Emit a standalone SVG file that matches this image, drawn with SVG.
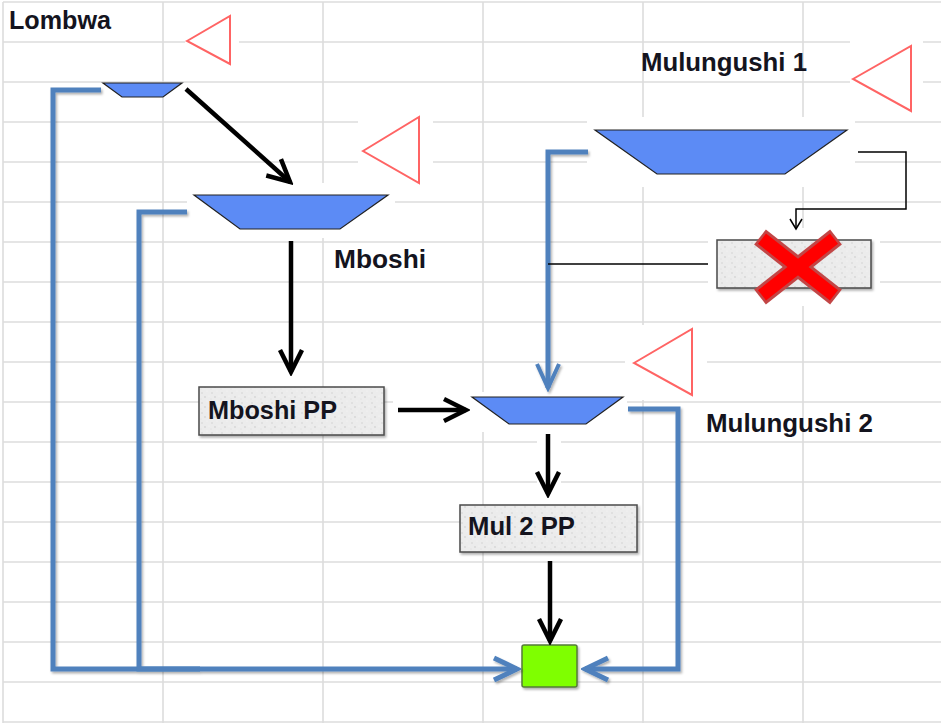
<svg xmlns="http://www.w3.org/2000/svg" width="941" height="723" viewBox="0 0 941 723">
<style>
.grid line{stroke:#dcdcdc;stroke-width:1.6}
.mask{fill:#fff}
.trap{fill:#5c8bf5;stroke:#222;stroke-width:1.2}
.tri{fill:#fff;stroke:#ff6464;stroke-width:2}
.lbl{font-family:"Liberation Sans",Arial,sans-serif;font-weight:bold;font-size:25px;fill:#14141e}
.box{fill:url(#speck);stroke:#4a4a4a;stroke-width:1.5}
.blk{fill:none;stroke:#000;stroke-width:4.5;marker-end:url(#ah)}
.blue{fill:none;stroke:#4f81bd;stroke-width:5;stroke-linejoin:miter}
.thin{fill:none;stroke:#000;stroke-width:1.5}
</style>
<defs>
<pattern id="speck" width="10" height="10" patternUnits="userSpaceOnUse">
<rect width="10" height="10" fill="#ececec"/>
<circle cx="2" cy="3" r="0.8" fill="#d2d2d2"/>
<circle cx="7" cy="1" r="0.6" fill="#f8f8f8"/>
<circle cx="5" cy="7" r="0.9" fill="#d6d6d6"/>
<circle cx="9" cy="6" r="0.6" fill="#fafafa"/>
<circle cx="1" cy="9" r="0.6" fill="#dadada"/>
</pattern>
<filter id="sh" x="-10%" y="-10%" width="130%" height="130%">
<feDropShadow dx="1.5" dy="2" stdDeviation="1.2" flood-color="#000" flood-opacity="0.3"/>
</filter>
<marker id="ah" markerUnits="userSpaceOnUse" viewBox="-30 -16 34 32" refX="0" refY="0" markerWidth="34" markerHeight="32" orient="auto">
<path d="M-22,-11 L0,0 L-22,11" fill="none" stroke="#000" stroke-width="4.5" stroke-linejoin="miter"/>
</marker>
<marker id="bh" markerUnits="userSpaceOnUse" viewBox="-30 -16 34 32" refX="0" refY="0" markerWidth="34" markerHeight="32" orient="auto">
<path d="M-23,-11 L0,0 L-23,11" fill="none" stroke="#4f81bd" stroke-width="5" stroke-linejoin="miter"/>
</marker>
<marker id="bh2" markerUnits="userSpaceOnUse" viewBox="-30 -16 34 32" refX="0" refY="0" markerWidth="34" markerHeight="32" orient="auto">
<path d="M-24,-11 L0,0 L-24,11" fill="none" stroke="#4f81bd" stroke-width="4" stroke-linejoin="miter"/>
</marker>
<marker id="th" markerUnits="userSpaceOnUse" viewBox="-12 -8 14 16" refX="0" refY="0" markerWidth="14" markerHeight="16" orient="auto">
<path d="M-10,-6 L0,0 L-10,6" fill="none" stroke="#000" stroke-width="1.5"/>
</marker>
</defs>
<rect width="941" height="723" fill="#fff"/>
<g class="grid">
<line x1="3" y1="2" x2="941" y2="2"/><line x1="3" y1="42" x2="941" y2="42"/><line x1="3" y1="82" x2="941" y2="82"/><line x1="3" y1="122" x2="941" y2="122"/><line x1="3" y1="162" x2="941" y2="162"/><line x1="3" y1="202" x2="941" y2="202"/><line x1="3" y1="242" x2="941" y2="242"/><line x1="3" y1="282" x2="941" y2="282"/><line x1="3" y1="322" x2="941" y2="322"/><line x1="3" y1="362" x2="941" y2="362"/><line x1="3" y1="402" x2="941" y2="402"/><line x1="3" y1="442" x2="941" y2="442"/><line x1="3" y1="482" x2="941" y2="482"/><line x1="3" y1="522" x2="941" y2="522"/><line x1="3" y1="562" x2="941" y2="562"/><line x1="3" y1="602" x2="941" y2="602"/><line x1="3" y1="642" x2="941" y2="642"/><line x1="3" y1="682" x2="941" y2="682"/><line x1="3" y1="722" x2="941" y2="722"/>
<line x1="3" y1="2" x2="3" y2="723"/><line x1="163" y1="2" x2="163" y2="723"/><line x1="323" y1="2" x2="323" y2="723"/><line x1="483" y1="2" x2="483" y2="723"/><line x1="643" y1="2" x2="643" y2="723"/><line x1="803" y1="2" x2="803" y2="723"/>
</g>
<g id="masks">
<rect class="mask" x="185" y="10" width="54" height="60"/>
<rect class="mask" x="187" y="183" width="208" height="55"/>
<rect class="mask" x="358" y="110" width="75" height="80"/>
<rect class="mask" x="393" y="395" width="77" height="30"/>
<rect class="mask" x="465" y="392" width="162" height="40"/>
<rect class="mask" x="537" y="436" width="24" height="58"/>
<rect class="mask" x="625" y="325" width="82" height="75"/>
<rect class="mask" x="587" y="117" width="268" height="70"/>
<rect class="mask" x="850" y="38" width="73" height="80"/>
<rect class="mask" x="708" y="228" width="172" height="78"/>
</g>
<g id="lombwa">
<text class="lbl" x="9" y="29" textLength="102" lengthAdjust="spacingAndGlyphs">Lombwa</text>
<polygon class="trap" points="103,83 182,83 163,97 122,97" stroke="none"/>
<polygon class="tri" points="187,41 230,16 230,64"/>
</g>
<g id="mboshi">
<polygon class="trap" points="194,195 388,195 340,229 240,229"/>
<polygon class="tri" points="363,151 419,117 419,183"/>
<text class="lbl" x="334" y="268" textLength="92" lengthAdjust="spacingAndGlyphs">Mboshi</text>
</g>
<g id="mboshi-pp">
<rect class="box" x="199" y="387" width="185" height="48" filter="url(#sh)"/>
<text class="lbl" x="208" y="419" textLength="129" lengthAdjust="spacingAndGlyphs">Mboshi PP</text>
</g>
<g id="mulungushi1">
<text class="lbl" x="641" y="71" textLength="166" lengthAdjust="spacingAndGlyphs">Mulungushi 1</text>
<polygon class="trap" points="595,130 847,130 785,174 657,174"/>
<polygon class="tri" points="853,79 911,46 911,111"/>
</g>
<g id="closed-plant">
<rect class="box" x="717" y="240" width="154" height="48" filter="url(#sh)"/>
<g stroke-linecap="butt">
<line x1="760" y1="237" x2="836" y2="297" stroke="#c24646" stroke-width="19"/>
<line x1="836" y1="237" x2="760" y2="297" stroke="#c24646" stroke-width="19"/>
<line x1="762" y1="238.7" x2="834" y2="295.3" stroke="#ff0000" stroke-width="13"/>
<line x1="834" y1="238.7" x2="762" y2="295.3" stroke="#ff0000" stroke-width="13"/>
</g>
</g>
<g id="mulungushi2">
<polygon class="trap" points="472,397 623,397 586,424 509,424"/>
<polygon class="tri" points="634,363 692,329 692,395"/>
<text class="lbl" x="706" y="432" textLength="167" lengthAdjust="spacingAndGlyphs">Mulungushi 2</text>
</g>
<g id="mul2-pp">
<rect class="box" x="460" y="505" width="177" height="47" filter="url(#sh)"/>
<text class="lbl" x="468" y="535" textLength="107" lengthAdjust="spacingAndGlyphs">Mul 2 PP</text>
</g>
<g id="outlet">
<rect x="522" y="645" width="55" height="42" rx="2" fill="#7fff00" stroke="#557a3a" stroke-width="1.5" filter="url(#sh)"/>
</g>
<g id="connectors">
<g filter="url(#sh)">
<path class="blue" d="M101,90 H53 V669 H517" marker-end="url(#bh)"/>
<path class="blue" d="M187,212 H139 V669 H200"/>
<path class="blue" d="M628,409 H678 V669 H585" marker-end="url(#bh)"/>
<path class="blue" stroke-width="4" d="M588,152 H548 V388" marker-end="url(#bh2)"/>
</g>
<path class="thin" d="M858,152 H906 V209 H796 V229" marker-end="url(#th)"/>
<path class="thin" d="M708,264 H548"/>
<path class="blk" d="M186,89 L290,182"/>
<path class="blk" d="M291,241 V372"/>
<path class="blk" d="M398,410 H466"/>
<path class="blk" d="M548,434 V494"/>
<path class="blk" d="M550,561 V641"/>
</g>
</svg>
